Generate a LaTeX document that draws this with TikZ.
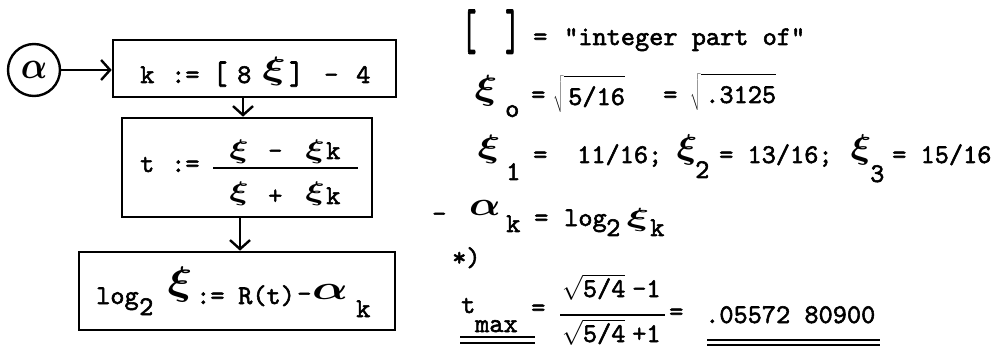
\documentclass[tikz,border=0pt]{standalone}
\usepackage{bm}
\usepackage{fontspec}
\usetikzlibrary{arrows.meta}
\newfontfamily\tw[FakeBold=2]{lmmono10-regular.otf}
\newcommand{\hxi}[2]{\scalebox{#1}[#2]{\fontsize{24.88}{25}\selectfont$\bm{\xi}$}}
\newcommand{\halpha}[2]{\scalebox{#1}[#2]{\fontsize{24.88}{25}\selectfont$\bm{\alpha}$}}
\newcommand{\rt}[1]{$\sqrt{\mbox{\vrule height 26pt depth 5pt width 0pt\,#1}}$}
\begin{document}
\begin{tikzpicture}[x=1pt,y=-1pt,
  tx/.style={font=\tw\fontsize{27}{27}\selectfont, inner sep=0pt, anchor=base west},
  sym/.style={inner sep=0pt, anchor=center},
  frame/.style={draw, line width=2.6pt, inner sep=0pt},
  arr/.style={line width=2.4pt, -{Straight Barb[length=9pt,width=20pt]}},
  bar/.style={line width=2.4pt},
]
\useasboundingbox (0,0) rectangle (1000,347);
% ---------- flowchart ----------
\node[draw, circle, line width=2.4pt, minimum size=52pt, inner sep=0pt] (c) at (34,70) {\halpha{1.4}{1.55}};
\node[frame, minimum width=283pt, minimum height=57pt] (b1) at (254.5,68.5) {};
\node[frame, minimum width=250pt, minimum height=99pt] (b2) at (247,167.5) {};
\node[frame, minimum width=316pt, minimum height=78pt] (b3) at (237,291) {};
\draw[arr] (c.east) -- (c.east -| b1.west);
\draw[arr] ([xshift=-11.5pt]b1.south) -- ([xshift=-11.5pt]b1.south |- b2.north);
\draw[arr] ([xshift=-7pt]b2.south) -- ([xshift=-7pt]b2.south |- b3.north);
% box 1
\node[tx] (k1) at (140,83) {k};
\node[tx] (a1) at (171,83) {:=};
\node[tx] (l1) at (213,84) {\scalebox{1}[1.2]{[}};
\node[tx] (e1) at (237,83) {8};
\node[sym] (x1) at (274,71) {\hxi{1.75}{1.3}};
\node[tx] (r1) at (289,84) {\scalebox{1}[1.2]{]}};
\node[tx] (m1) at (324,83) {-};
\node[tx] (f1) at (356,83) {4};
% box 2
\node[tx] (t2) at (140,172) {t};
\node[tx] (a2) at (171,172) {:=};
\draw[bar] (213,168) -- (358,168);
\node[sym] (x2a) at (239,151.5) {\hxi{1.45}{1.08}};
\node[tx] (m2) at (268,159) {-};
\node[sym] (x2b) at (315,151.5) {\hxi{1.45}{1.08}};
\node[tx] (k2a) at (326,159) {k};
\node[sym] (x2c) at (239,194) {\hxi{1.45}{1.08}};
\node[tx] (p2) at (268,204) {+};
\node[sym] (x2d) at (315,194) {\hxi{1.45}{1.08}};
\node[tx] (k2b) at (326,204) {k};
% box 3
\node[tx] (lg3) at (96,304) {log};
\node[tx] (s3) at (139,315) {2};
\node[sym] (x3) at (180,284.5) {\hxi{1.85}{1.6}};
\node[tx] (a3) at (196,304) {:=};
\node[tx] (r3) at (238,304) {R(t)};
\node[tx] (m3) at (297,302) {-};
\node[sym] (al3) at (330,292) {\halpha{1.9}{1.36}};
\node[tx] (k3) at (356,317) {k};
% ---------- notes ----------
\node[tx] (lb) at (462,49) {\scalebox{1}[2.1]{[}};
\node[tx] (rb) at (505,49) {\scalebox{1}[2.1]{]}};
\node[tx] (n1) at (533,45) {=};
\node[tx] (n1b) at (564,45) {"integer part of"};
% row 2
\node[sym] (x4) at (486,91) {\hxi{1.7}{1.4}};
\node[tx] (o4) at (505,117) {o};
\node[tx] (e4) at (531,103) {=};
\node[tx] (s4) at (553,105) {\rt{5/16}};
\node[tx] (e4b) at (663,103) {=};
\node[tx] (s4b) at (690,103) {\rt{.3125}};
% row 3
\node[sym] (x5) at (489,149) {\hxi{1.7}{1.3}};
\node[tx] (i5) at (506,180) {1};
\node[tx] (e5) at (533,163) {=};
\node[tx] (v5) at (577,163) {11/16;};
\node[sym] (x6) at (687,150) {\hxi{1.55}{1.38}};
\node[tx] (i6) at (695,178) {2};
\node[tx] (v6) at (719,163) {= 13/16;};
\node[sym] (x7) at (861,150) {\hxi{1.55}{1.38}};
\node[tx] (i7) at (870,182) {3};
\node[tx] (v7) at (892,163) {= 15/16};
% row 4
\node[tx] (m8) at (432,222) {-};
\node[sym] (al8) at (485,208) {\halpha{1.67}{1.36}};
\node[tx] (k8) at (506,232) {k};
\node[tx] (e8) at (534,226) {=};
\node[tx] (lg8) at (564,226) {log};
\node[tx] (s8) at (606,236) {2};
\node[sym] (x8) at (638,220) {\hxi{1.7}{1.05}};
\node[tx] (k8b) at (650,236) {k};
% row 5
\node[tx] (st) at (452,266) {*)};
% row 6
\node[tx] (tm) at (461,313) {t};
\node[tx] (mx) at (475,332) {max};
\draw[line width=2pt] (460,337) -- (535,337);
\draw[line width=2pt] (460,343) -- (535,343);
\node[tx] (e9) at (531,316) {=};
\node[tx] (nu) at (562,297) {$\sqrt{\mbox{\vrule height 19pt depth 2pt width 0pt 5/4}}$};
\node[tx] (nu2) at (632,297) {-1};
\draw[bar] (560,315) -- (665,315);
\node[tx] (de) at (562,342) {$\sqrt{\mbox{\vrule height 19pt depth 2pt width 0pt 5/4}}$};
\node[tx] (de2) at (632,342) {+1};
\node[tx] (e10) at (669,320) {=};
\node[tx] (res) at (705,323) {.05572 80900};
\draw[line width=2pt] (707,340) -- (880,340);
\draw[line width=2pt] (707,345) -- (880,345);
\end{tikzpicture}
\end{document}
